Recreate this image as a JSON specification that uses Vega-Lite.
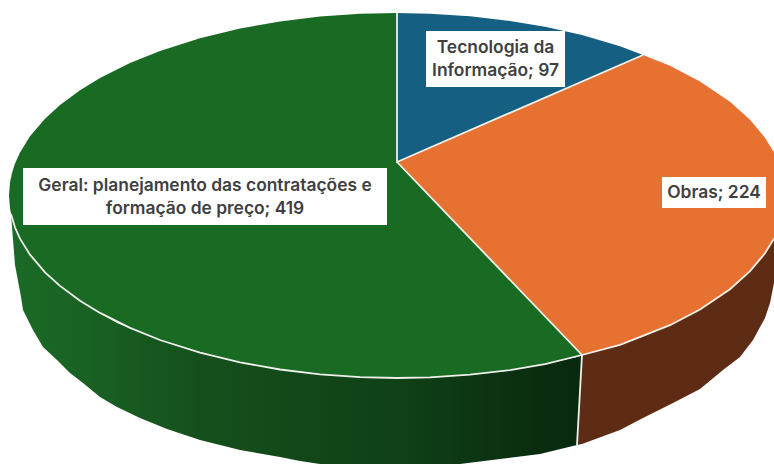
{"$schema":"https://vega.github.io/schema/vega-lite/v6.json","width":774,"height":464,"padding":0,"autosize":"none","background":"white","config":{"view":{"stroke":null}},
"datasets":{
"side_geral":[{"x":11,"y":214,"y2":214},{"x":15,"y":227.5,"y2":265},{"x":21,"y":240,"y2":297},{"x":23,"y":243,"y2":310},{"x":33,"y":258,"y2":330},{"x":43,"y":270,"y2":347},{"x":57,"y":284,"y2":360},{"x":70,"y":293.6,"y2":373},{"x":83,"y":303,"y2":383},{"x":100,"y":312.9,"y2":397},{"x":117,"y":323,"y2":407},{"x":140,"y":332,"y2":418},{"x":167,"y":342.5,"y2":429},{"x":200,"y":352.7,"y2":440},{"x":240,"y":362.4,"y2":450},{"x":280,"y":369.5,"y2":457},{"x":300,"y":372,"y2":461},{"x":320,"y":374.4,"y2":464},{"x":397,"y":378,"y2":464},{"x":460,"y":375.5,"y2":464},{"x":500,"y":371.5,"y2":459},{"x":540,"y":365,"y2":454},{"x":577,"y":357,"y2":445},{"x":582,"y":355,"y2":355}],
"side_obras":[{"x":577,"y":445,"y2":445},{"x":582,"y":355,"y2":444},{"x":620,"y":344.8,"y2":430},{"x":643,"y":336.6,"y2":418},{"x":673,"y":323,"y2":403},{"x":700,"y":309.5,"y2":389},{"x":723,"y":294,"y2":370},{"x":740,"y":280,"y2":357},{"x":753,"y":268,"y2":340},{"x":765,"y":253.3,"y2":318},{"x":770,"y":246,"y2":303},{"x":774,"y":238.6,"y2":283}],
"top":[
{"slice":"Geral","part":"g1","x":9,"y":195.5,"y2":195.5},{"slice":"Geral","part":"g1","x":10,"y":182.4,"y2":208.6},{"slice":"Geral","part":"g1","x":12,"y":172.9,"y2":218.1},{"slice":"Geral","part":"g1","x":15,"y":163.5,"y2":227.5},{"slice":"Geral","part":"g1","x":20,"y":152.4,"y2":238.6},{"slice":"Geral","part":"g1","x":30,"y":136.3,"y2":254.7},{"slice":"Geral","part":"g1","x":45,"y":118.7,"y2":272.3},{"slice":"Geral","part":"g1","x":60,"y":105.1,"y2":285.9},{"slice":"Geral","part":"g1","x":80,"y":90.3,"y2":300.7},{"slice":"Geral","part":"g1","x":100,"y":78.1,"y2":312.9},{"slice":"Geral","part":"g1","x":130,"y":63.1,"y2":327.9},{"slice":"Geral","part":"g1","x":160,"y":51,"y2":340},{"slice":"Geral","part":"g1","x":200,"y":38.3,"y2":352.7},{"slice":"Geral","part":"g1","x":240,"y":28.6,"y2":362.4},{"slice":"Geral","part":"g1","x":280,"y":21.5,"y2":369.5},{"slice":"Geral","part":"g1","x":320,"y":16.6,"y2":374.4},{"slice":"Geral","part":"g1","x":360,"y":13.8,"y2":377.2},{"slice":"Geral","part":"g1","x":397,"y":13,"y2":378},
{"slice":"Geral","part":"g2","x":397,"y":162,"y2":378},{"slice":"Geral","part":"g2","x":430,"y":196.4,"y2":377.3},{"slice":"Geral","part":"g2","x":470,"y":238.2,"y2":374.7},{"slice":"Geral","part":"g2","x":510,"y":279.9,"y2":370.1},{"slice":"Geral","part":"g2","x":545,"y":316.4,"y2":364.2},{"slice":"Geral","part":"g2","x":582,"y":355,"y2":355},
{"slice":"TI","part":"t","x":397,"y":13,"y2":162},{"slice":"TI","part":"t","x":430,"y":13.7,"y2":147.6},{"slice":"TI","part":"t","x":470,"y":16.3,"y2":130.2},{"slice":"TI","part":"t","x":510,"y":20.9,"y2":112.9},{"slice":"TI","part":"t","x":545,"y":26.8,"y2":97.6},{"slice":"TI","part":"t","x":582,"y":35.1,"y2":81.5},{"slice":"TI","part":"t","x":620,"y":46.2,"y2":65},{"slice":"TI","part":"t","x":643,"y":55,"y2":55},
{"slice":"Obras","part":"o","x":397,"y":162,"y2":162},{"slice":"Obras","part":"o","x":430,"y":147.6,"y2":196.4},{"slice":"Obras","part":"o","x":470,"y":130.2,"y2":238.2},{"slice":"Obras","part":"o","x":510,"y":112.9,"y2":279.9},{"slice":"Obras","part":"o","x":545,"y":97.6,"y2":316.4},{"slice":"Obras","part":"o","x":582,"y":81.5,"y2":355},{"slice":"Obras","part":"o","x":620,"y":65,"y2":344.8},{"slice":"Obras","part":"o","x":643,"y":55,"y2":336.6},{"slice":"Obras","part":"o","x":670,"y":65.8,"y2":325.2},{"slice":"Obras","part":"o","x":700,"y":81.5,"y2":309.5},{"slice":"Obras","part":"o","x":730,"y":101.8,"y2":289.2},{"slice":"Obras","part":"o","x":750,"y":119.8,"y2":271.2},{"slice":"Obras","part":"o","x":765,"y":137.7,"y2":253.3},{"slice":"Obras","part":"o","x":774,"y":152.4,"y2":238.6}],
"seams":[
{"seam":"a","n":1,"x":397,"y":13},{"seam":"a","n":2,"x":397,"y":162},{"seam":"a","n":3,"x":643,"y":55},
{"seam":"b","n":1,"x":397,"y":162},{"seam":"b","n":2,"x":582,"y":355},{"seam":"b","n":3,"x":577,"y":445},
{"seam":"c","n":1,"x":11,"y":214},{"seam":"c","n":2,"x":15,"y":227.5},{"seam":"c","n":3,"x":20,"y":238.6},{"seam":"c","n":4,"x":30,"y":254.7},{"seam":"c","n":5,"x":45,"y":272.3},{"seam":"c","n":6,"x":60,"y":285.9},{"seam":"c","n":7,"x":80,"y":300.7},{"seam":"c","n":8,"x":100,"y":312.9},{"seam":"c","n":9,"x":130,"y":327.9},{"seam":"c","n":10,"x":160,"y":340},{"seam":"c","n":11,"x":200,"y":352.7},{"seam":"c","n":12,"x":240,"y":362.4},{"seam":"c","n":13,"x":280,"y":369.5},{"seam":"c","n":14,"x":320,"y":374.4},{"seam":"c","n":15,"x":360,"y":377.2},{"seam":"c","n":16,"x":397,"y":378},{"seam":"c","n":17,"x":430,"y":377.3},{"seam":"c","n":18,"x":470,"y":374.7},{"seam":"c","n":19,"x":510,"y":370.1},{"seam":"c","n":20,"x":545,"y":364.2},{"seam":"c","n":21,"x":582,"y":355},{"seam":"c","n":22,"x":620,"y":344.8},{"seam":"c","n":23,"x":670,"y":325.2},{"seam":"c","n":24,"x":700,"y":309.5},{"seam":"c","n":25,"x":730,"y":289.2},{"seam":"c","n":26,"x":750,"y":271.2},{"seam":"c","n":27,"x":765,"y":253.3},{"seam":"c","n":28,"x":774,"y":238.6}],
"labels":[
{"category":"Geral: planejamento das contratações e formação de preço","value":419,"lines":["Geral: planejamento das contratações e","formação de preço; 419"],"x0":23,"x1":387,"y0":168,"y1":225,"cx":205,"cy":186},
{"category":"Tecnologia da Informação","value":97,"lines":["Tecnologia da","Informação; 97"],"x0":426,"x1":565,"y0":31,"y1":87,"cx":495.5,"cy":48},
{"category":"Obras","value":224,"lines":["Obras; 224"],"x0":662,"x1":766,"y0":177,"y1":208,"cx":714,"cy":193}]
},
"encoding":{},
"layer":[
{"data":{"name":"side_geral"},"mark":{"type":"area","clip":true,"fill":{"gradient":"linear","x1":0,"y1":0,"x2":1,"y2":0,"stops":[{"offset":0,"color":"#1b6a27"},{"offset":0.12,"color":"#1a6224"},{"offset":0.33,"color":"#15501c"},{"offset":0.7,"color":"#0f3f16"},{"offset":0.92,"color":"#0a2d10"},{"offset":1,"color":"#08290e"}]}},
"encoding":{"x":{"field":"x","type":"quantitative","scale":{"domain":[0,774],"nice":false,"zero":false},"axis":null},"y":{"field":"y","type":"quantitative","scale":{"domain":[464,0],"nice":false,"zero":false},"axis":null},"y2":{"field":"y2"}}},
{"data":{"name":"side_obras"},"mark":{"type":"area","clip":true,"fill":"#5e2c15"},
"encoding":{"x":{"field":"x","type":"quantitative","axis":null},"y":{"field":"y","type":"quantitative","axis":null},"y2":{"field":"y2"}}},
{"data":{"name":"top"},"mark":{"type":"area","clip":true},
"encoding":{"x":{"field":"x","type":"quantitative","axis":null},"y":{"field":"y","type":"quantitative","axis":null},"y2":{"field":"y2"},"detail":{"field":"part"},"fill":{"field":"slice","type":"nominal","legend":null,"scale":{"domain":["Geral","TI","Obras"],"range":["#196b24","#156082","#e77131"]}}}},
{"data":{"name":"seams"},"mark":{"type":"line","clip":true,"color":"#eef0ea","strokeWidth":1.8},
"encoding":{"x":{"field":"x","type":"quantitative","axis":null},"y":{"field":"y","type":"quantitative","axis":null},"detail":{"field":"seam"},"order":{"field":"n","type":"quantitative"}}},
{"data":{"name":"labels"},"mark":{"type":"rect","fill":"white"},
"encoding":{"x":{"field":"x0","type":"quantitative","axis":null},"x2":{"field":"x1"},"y":{"field":"y0","type":"quantitative","axis":null},"y2":{"field":"y1"}}},
{"data":{"name":"labels"},"mark":{"type":"text","font":"Inter","fontSize":17.4,"fontWeight":600,"color":"#404040","align":"center","baseline":"middle","lineHeight":23},
"encoding":{"x":{"field":"cx","type":"quantitative","axis":null},"y":{"field":"cy","type":"quantitative","axis":null},"text":{"field":"lines"}}}
]}
